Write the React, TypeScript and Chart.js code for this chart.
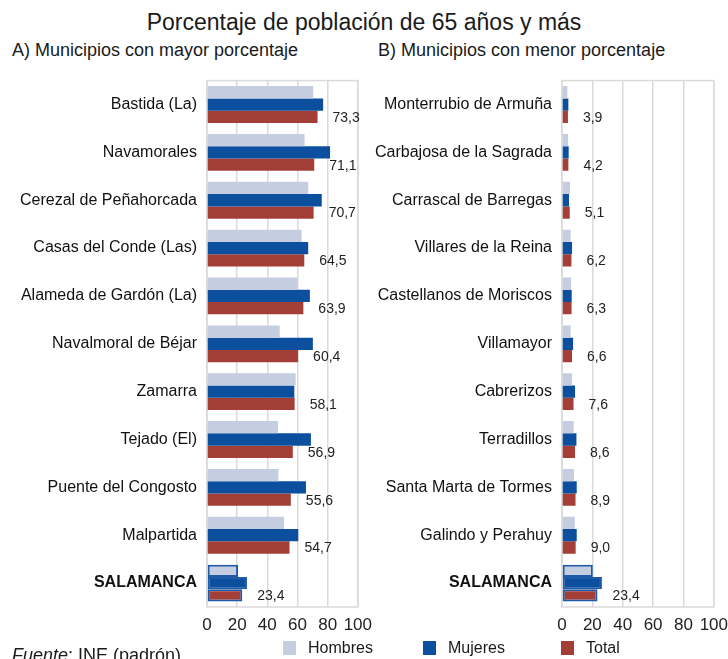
import React, { useEffect, useRef } from "react";
import { Chart, registerables } from "chart.js";
Chart.register(...registerables);

const leftCategories = ["Bastida (La)", "Navamorales", "Cerezal de Peñahorcada", "Casas del Conde (Las)", "Alameda de Gardón (La)", "Navalmoral de Béjar", "Zamarra", "Tejado (El)", "Puente del Congosto", "Malpartida", "SALAMANCA"];
const leftHombres = [70.4, 64.7, 67.1, 62.7, 60.1, 48.2, 58.8, 47.1, 47.4, 51.1, 20.6];
const leftMujeres = [77.0, 81.6, 76.1, 67.1, 68.2, 70.2, 57.9, 68.9, 65.6, 60.5, 26.5];
const leftTotal = [73.3, 71.1, 70.7, 64.5, 63.9, 60.4, 58.1, 56.9, 55.6, 54.7, 23.4];

const rightCategories = ["Monterrubio de Armuña", "Carbajosa de la Sagrada", "Carrascal de Barregas", "Villares de la Reina", "Castellanos de Moriscos", "Villamayor", "Cabrerizos", "Terradillos", "Santa Marta de Tormes", "Galindo y Perahuy", "SALAMANCA"];
const rightHombres = [3.5, 4.0, 5.3, 5.7, 6.0, 5.7, 6.6, 7.7, 7.9, 8.4, 20.3];
const rightMujeres = [4.2, 4.4, 4.6, 6.6, 6.4, 7.3, 8.6, 9.5, 9.7, 9.7, 26.3];
const rightTotal = [3.9, 4.2, 5.1, 6.2, 6.3, 6.6, 7.6, 8.6, 8.9, 9.0, 23.4];

const seriesNames = ["Hombres", "Mujeres", "Total"];
const seriesColors = ["#c5cde1", "#0b4f9e", "#a33f37"];
const xMin = 0;
const xMax = 100;
const xStep = 20;

const FONT = "'Liberation Sans', Arial, Helvetica, sans-serif";
const GRID = "#dadada";
const HIGHLIGHT_BORDER = "#1f5aa6";

const overlayPlugin = {
  id: "overlay",
  beforeDatasetsDraw(chart: any) {
    const { ctx, chartArea } = chart;
    ctx.save();
    ctx.strokeStyle = GRID;
    ctx.lineWidth = 1.5;
    ctx.strokeRect(chartArea.left, chartArea.top, chartArea.right - chartArea.left, chartArea.bottom - chartArea.top);
    ctx.restore();
  },
  afterDatasetsDraw(chart: any) {
    const { ctx } = chart;
    const meta = chart.getDatasetMeta(2);
    const data = chart.data.datasets[2].data as number[];
    ctx.save();
    ctx.font = `14px ${FONT}`;
    ctx.fillStyle = "#222";
    ctx.textBaseline = "middle";
    ctx.textAlign = "left";
    meta.data.forEach((el: any, i: number) => {
      ctx.fillText(data[i].toFixed(1).replace(".", ","), el.x + 15, el.y + 1);
    });
    ctx.restore();
  },
};

function Panel(props: {
  categories: string[];
  hombres: number[];
  mujeres: number[];
  total: number[];
  left: number;
  width: number;
  yWidth: number;
  padRight: number;
}) {
  const ref = useRef<HTMLCanvasElement | null>(null);
  useEffect(() => {
    if (!ref.current) return;
    const n = props.categories.length;
    const bw = (extra: number) => props.categories.map((_, i) => (i === n - 1 ? extra : 0));
    const values = [props.hombres, props.mujeres, props.total];
    const chart = new Chart(ref.current, {
      type: "bar",
      data: {
        labels: props.categories,
        datasets: seriesNames.map((name, k) => ({
          label: name,
          data: values[k],
          backgroundColor: seriesColors[k],
          borderColor: HIGHLIGHT_BORDER,
          borderWidth: bw(2),
          borderSkipped: false,
          barPercentage: 1,
          categoryPercentage: 0.77,
        })),
      },
      options: {
        indexAxis: "y",
        responsive: false,
        animation: false,
        layout: { padding: { top: 0, right: props.padRight, bottom: 0, left: 0 } },
        plugins: { legend: { display: false }, tooltip: { enabled: false } },
        scales: {
          x: {
            min: xMin,
            max: xMax,
            ticks: {
              stepSize: xStep,
              color: "#222",
              font: { family: FONT, size: 17 },
              padding: 8,
              autoSkip: false,
              maxRotation: 0,
              minRotation: 0,
            },
            grid: { color: GRID, lineWidth: 1.5, drawTicks: false },
            border: { display: false },
            afterFit: (s: any) => {
              s.height = 38;
            },
          },
          y: {
            ticks: {
              color: "#111",
              padding: 10,
              autoSkip: false,
              font: (c: any) => ({ family: FONT, size: 16, weight: c.index === n - 1 ? "bold" : "normal" }),
            },
            grid: { display: false, drawTicks: false },
            border: { display: false },
            afterFit: (s: any) => {
              s.width = props.yWidth;
            },
          },
        },
      } as any,
      plugins: [overlayPlugin],
    });
    return () => chart.destroy();
  }, []);
  return (
    <canvas
      ref={ref}
      width={props.width}
      height={584}
      style={{ position: "absolute", left: props.left, top: 61, width: props.width, height: 584 }}
    />
  );
}

export default function App() {
  const textBase: React.CSSProperties = { position: "absolute", fontFamily: FONT, color: "#1a1a1a", whiteSpace: "nowrap" };
  const legendX = [283, 423, 561];
  return (
    <div style={{ position: "absolute", left: 0, top: 0, width: 728, height: 659, overflow: "hidden", background: "#fff" }}>
      <div style={{ ...textBase, left: 0, width: 728, top: 9, textAlign: "center", fontSize: 23, lineHeight: "26px" }}>
        Porcentaje de población de 65 años y más
      </div>
      <div style={{ ...textBase, left: 12, top: 40, fontSize: 18, lineHeight: "20px" }}>A) Municipios con mayor porcentaje</div>
      <div style={{ ...textBase, left: 378, top: 40, fontSize: 18, lineHeight: "20px" }}>B) Municipios con menor porcentaje</div>
      <Panel categories={leftCategories} hombres={leftHombres} mujeres={leftMujeres} total={leftTotal} left={0} width={380} yWidth={207} padRight={17} />
      <Panel categories={rightCategories} hombres={rightHombres} mujeres={rightMujeres} total={rightTotal} left={365} width={371} yWidth={197} padRight={15} />
      {seriesNames.map((name, k) => (
        <React.Fragment key={name}>
          <div style={{ position: "absolute", left: legendX[k], top: 641, width: 13, height: 14, background: seriesColors[k] }} />
          <div style={{ ...textBase, left: legendX[k] + 25, top: 639, fontSize: 16, lineHeight: "18px" }}>{name}</div>
        </React.Fragment>
      ))}
      <div style={{ ...textBase, left: 12, top: 645, fontSize: 18, lineHeight: "20px" }}>
        <i>Fuente</i>: INE (padrón)
      </div>
    </div>
  );
}
